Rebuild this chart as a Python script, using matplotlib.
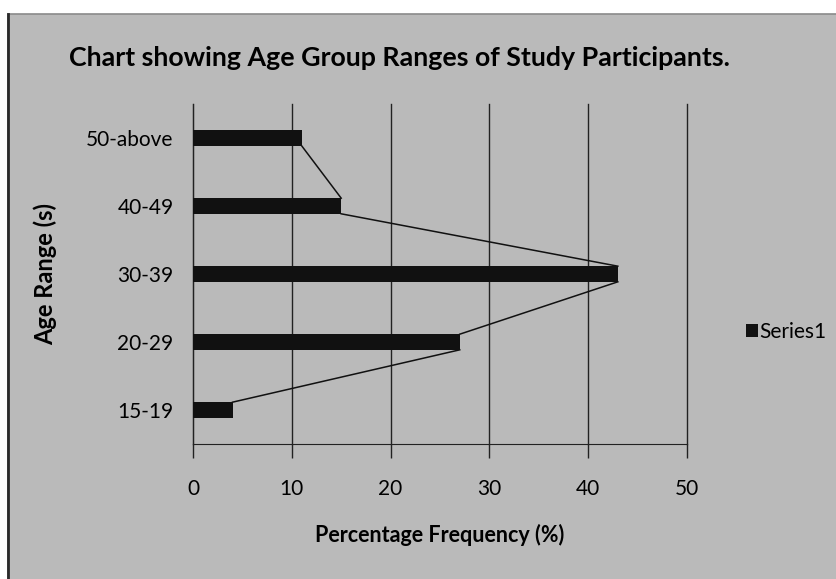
import matplotlib
matplotlib.use("Agg")
import matplotlib.pyplot as plt
from matplotlib.patches import Rectangle
from matplotlib.lines import Line2D

# data
age_groups = ["15-19", "20-29", "30-39", "40-49", "50-above"]
percent = [4, 27, 43, 15, 11]
xticks = [0, 10, 20, 30, 40, 50]

plt.rcParams['font.family'] = ['Lato', 'DejaVu Sans']

W, H = 837, 579
fig = plt.figure(figsize=(W / 100, H / 100), dpi=100, facecolor="white")

# gray chart panel behind everything
panel = Rectangle((8 / W, -0.01), 1.0, (H - 14) / H + 0.01, transform=fig.transFigure,
                  facecolor="#bababa", edgecolor="#8a8a8a", linewidth=1.2, zorder=-5)
fig.patches.append(panel)
fig.add_artist(Line2D([8 / W, 8 / W], [0, (H - 14) / H], color="#2a2a2a", linewidth=2,
                      transform=fig.transFigure, zorder=-4))

ax = fig.add_axes([193 / W, 135 / H, 494 / W, 340 / H])
ax.set_facecolor("none")

bar_h = 0.23
y = list(range(len(age_groups)))
ax.barh(y, percent, height=bar_h, color="#111111", zorder=3, label="Series1")

# series lines joining the bar ends
for i in range(len(percent) - 1):
    ax.plot([percent[i], percent[i + 1]], [y[i] + bar_h / 2, y[i + 1] - bar_h / 2],
            color="#111111", linewidth=1.1, zorder=3)

ax.set_xlim(0, 50)
ax.set_ylim(-0.5, len(age_groups) - 0.5)
ax.set_xticks(xticks)
ax.set_xticklabels([str(t) for t in xticks], fontsize=15)
ax.set_yticks(y)
ax.set_yticklabels(age_groups, fontsize=15)
ax.tick_params(axis="y", length=0, pad=14)
ax.tick_params(axis="x", length=10, width=1, direction="out", pad=15, color="#222222")
ax.grid(axis="x", color="#222222", linewidth=1, zorder=1)
for gl in ax.get_xgridlines():
    gl.set_clip_on(False)
for s in ["top", "right"]:
    ax.spines[s].set_visible(False)
ax.spines["left"].set_color("#222222")
ax.spines["bottom"].set_color("#222222")

ax.set_xlabel("Percentage Frequency (%)", fontsize=15.5, fontweight="bold", va="center")
ax.xaxis.set_label_coords(0.5, (444 - 535) / 340)
ax.set_ylabel("Age Range (s)", fontsize=17, fontweight="bold", va="center")
ax.yaxis.set_label_coords((45 - 193) / 494, (444 - 274) / 340)

fig.text(399 / W, 1 - 58 / H, "Chart showing Age Group Ranges of Study Participants.",
         ha="center", va="center", fontsize=19.3, fontweight="bold")

leg = ax.legend(loc="center left", bbox_to_anchor=(736 / W, 1 - 332 / H),
                bbox_transform=fig.transFigure, frameon=False, fontsize=15,
                handlelength=0.55, handleheight=0.55, handletextpad=0.05, borderpad=0)

fig.savefig("out.png", dpi=100, facecolor="white")
